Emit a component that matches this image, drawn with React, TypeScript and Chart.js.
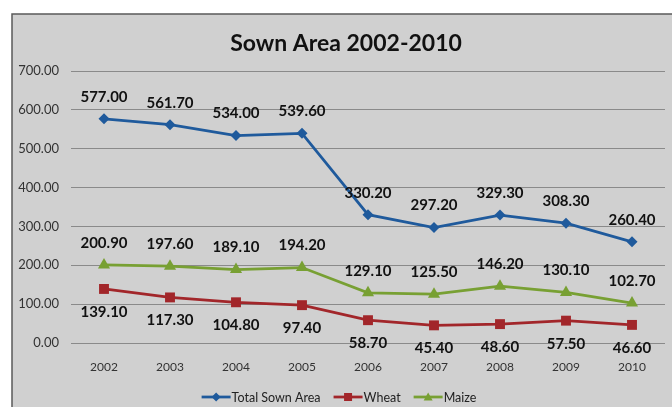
import React, { useEffect, useRef } from "react";
import { Chart, registerables } from "chart.js";

Chart.register(...registerables);

const years = ["2002", "2003", "2004", "2005", "2006", "2007", "2008", "2009", "2010"];
const totalSownArea = [577.0, 561.7, 534.0, 539.6, 330.2, 297.2, 329.3, 308.3, 260.4];
const wheat = [139.1, 117.3, 104.8, 97.4, 58.7, 45.4, 48.6, 57.5, 46.6];
const maize = [200.9, 197.6, 189.1, 194.2, 129.1, 125.5, 146.2, 130.1, 102.7];
const seriesNames = ["Total Sown Area", "Wheat", "Maize"];
const titleText = "Sown Area 2002-2010";

const BLUE = "#1f5a9c";
const RED = "#a2262a";
const GREEN = "#78a033";
const FONT = "Lato, 'Open Sans', sans-serif";

function drawMarker(ctx: CanvasRenderingContext2D, style: string, x: number, y: number, r: number, color: string) {
  ctx.save();
  ctx.fillStyle = color;
  ctx.beginPath();
  if (style === "rectRot") {
    ctx.moveTo(x, y - r);
    ctx.lineTo(x + r, y);
    ctx.lineTo(x, y + r);
    ctx.lineTo(x - r, y);
  } else if (style === "rect") {
    ctx.rect(x - r, y - r, 2 * r, 2 * r);
  } else {
    ctx.moveTo(x, y - r);
    ctx.lineTo(x + r, y + r * 0.75);
    ctx.lineTo(x - r, y + r * 0.75);
  }
  ctx.closePath();
  ctx.fill();
  ctx.restore();
}

const framePlugin = {
  id: "frame",
  beforeDraw(chart: any) {
    const ctx = chart.ctx as CanvasRenderingContext2D;
    ctx.save();
    ctx.fillStyle = "#ffffff";
    ctx.fillRect(0, 0, chart.width, chart.height);
    ctx.fillStyle = "#d0d0d0";
    ctx.fillRect(12, 14, chart.width - 12 + 10, chart.height - 14 + 10);
    ctx.strokeStyle = "#5a5a5a";
    ctx.lineWidth = 1.5;
    ctx.strokeRect(12, 14, chart.width - 12 + 10, chart.height - 14 + 10);
    // title
    ctx.fillStyle = "#111111";
    ctx.font = `bold 23px ${FONT}`;
    ctx.textAlign = "center";
    ctx.textBaseline = "middle";
    ctx.fillText(titleText, 346, 44);
    ctx.restore();
  },
  afterDatasetsDraw(chart: any) {
    const ctx = chart.ctx as CanvasRenderingContext2D;
    ctx.save();
    ctx.font = `bold 15px ${FONT}`;
    ctx.fillStyle = "#111111";
    ctx.textAlign = "center";
    ctx.textBaseline = "middle";
    chart.data.datasets.forEach((ds: any, di: number) => {
      const meta = chart.getDatasetMeta(di);
      const off = ds.labelOffset;
      meta.data.forEach((pt: any, i: number) => {
        ctx.fillText(Number(ds.data[i]).toFixed(2), pt.x, pt.y + off);
      });
    });
    // legend
    ctx.font = `12.5px ${FONT}`;
    ctx.textBaseline = "middle";
    ctx.textAlign = "left";
    const lineW = 29;
    const gap = 1;
    const itemGap = 13;
    const widths = chart.data.datasets.map((ds: any) => lineW + gap + ctx.measureText(ds.label).width);
    const total = widths.reduce((a: number, b: number) => a + b, 0) + itemGap * (widths.length - 1);
    let x = 339 - total / 2;
    const y = 397;
    chart.data.datasets.forEach((ds: any, di: number) => {
      ctx.strokeStyle = ds.borderColor;
      ctx.lineWidth = 2.75;
      ctx.beginPath();
      ctx.moveTo(x, y);
      ctx.lineTo(x + lineW, y);
      ctx.stroke();
      drawMarker(ctx, ds.pointStyle, x + lineW / 2, y, ds.pointStyle === "rect" ? 4 : 4.5, ds.borderColor);
      ctx.fillStyle = "#222222";
      ctx.fillText(ds.label, x + lineW + gap, y + 0.5);
      x += widths[di] + itemGap;
    });
    ctx.restore();
  },
};

export default function App() {
  const ref = useRef<HTMLCanvasElement | null>(null);
  useEffect(() => {
    if (!ref.current) return;
    const chart = new Chart(ref.current, {
      type: "line",
      data: {
        labels: years,
        datasets: [
          {
            label: seriesNames[0],
            data: totalSownArea,
            borderColor: BLUE,
            backgroundColor: BLUE,
            borderWidth: 2.75,
            pointStyle: "rectRot",
            pointRadius: 5.5,
            pointBorderWidth: 0,
            tension: 0,
            labelOffset: -22,
          } as any,
          {
            label: seriesNames[1],
            data: wheat,
            borderColor: RED,
            backgroundColor: RED,
            borderWidth: 2.75,
            pointStyle: "rect",
            pointRadius: 7,
            pointBorderWidth: 0,
            tension: 0,
            labelOffset: 23,
          } as any,
          {
            label: seriesNames[2],
            data: maize,
            borderColor: GREEN,
            backgroundColor: GREEN,
            borderWidth: 2.75,
            pointStyle: "triangle",
            pointRadius: 7,
            pointBorderWidth: 0,
            tension: 0,
            labelOffset: -22,
          } as any,
        ],
      },
      options: {
        responsive: false,
        animation: false,
        devicePixelRatio: 1,
        layout: { padding: { top: 71, left: 0, right: 1, bottom: 0 } },
        plugins: {
          legend: { display: false },
          title: { display: false },
          tooltip: { enabled: false },
        },
        scales: {
          x: {
            type: "category",
            offset: true,
            grid: { display: false, drawTicks: false },
            border: { display: false },
            ticks: { color: "#333333", font: { family: FONT, size: 12 }, padding: 17 },
            afterFit: (s: any) => {
              s.height = 64;
            },
          },
          y: {
            min: 0,
            max: 700,
            grid: { color: "#8a8a8a", lineWidth: 1, drawTicks: false },
            border: { display: false },
            ticks: {
              stepSize: 100,
              color: "#333333",
              font: { family: FONT, size: 13 },
              padding: 12,
              callback: (v: any) => Number(v).toFixed(2),
            },
            afterFit: (s: any) => {
              s.width = 71;
            },
          },
        },
      } as any,
      plugins: [framePlugin],
    });
    return () => chart.destroy();
  }, []);
  return (
    <div style={{ position: "absolute", left: 0, top: 0, width: 672, height: 407 }}>
      <canvas ref={ref} width={672} height={407} style={{ display: "block", width: 672, height: 407 }} />
    </div>
  );
}
